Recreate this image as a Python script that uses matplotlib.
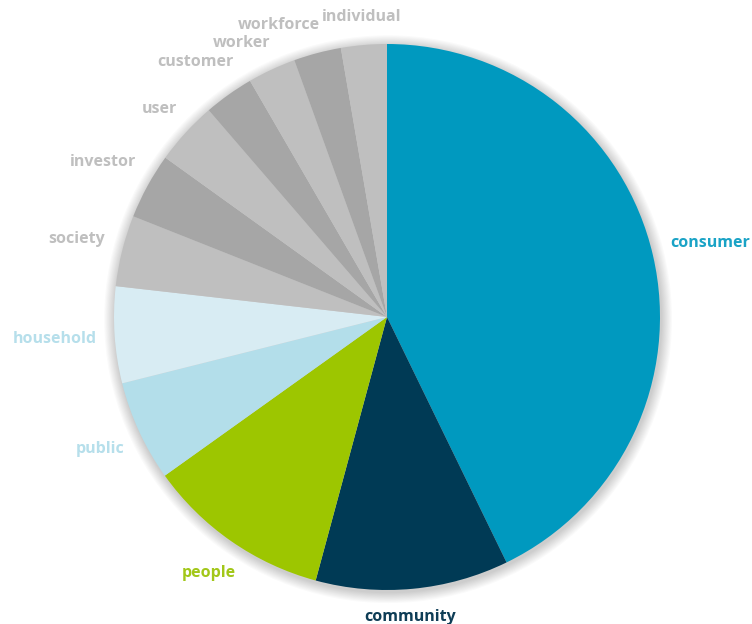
import numpy as np
import matplotlib.pyplot as plt
from matplotlib.patches import Circle

# share of mentions (clockwise from 12 o'clock)
labels = ['consumer', 'community', 'people', 'public', 'household', 'society',
          'investor', 'user', 'customer', 'worker', 'workforce', 'individual']
values = [42.7, 11.4, 10.9, 5.95, 5.7, 4.2, 3.9, 3.75, 2.95, 2.85, 2.8, 2.7]

light_gray = '#BFBFBF'
dark_gray = '#A6A6A6'
colors = ['#0099BF', '#003A55', '#9DC600', '#B3DEEA', '#D8ECF3', light_gray,
          dark_gray, light_gray, dark_gray, light_gray, dark_gray, light_gray]
text_colors = ['#1AA3C6', '#0E3D56', '#A2C719', '#B6DFEB', '#B6DFEB', '#BFBFBF',
               '#BFBFBF', '#BFBFBF', '#BFBFBF', '#BFBFBF', '#BFBFBF', '#BFBFBF']

W, H, DPI = 752, 624, 100
R_PX = 273.0
CX, CY = 387.0, 317.0

plt.rcParams['font.family'] = ['Open Sans', 'DejaVu Sans']

fig = plt.figure(figsize=(W / DPI, H / DPI), dpi=DPI)
ax = fig.add_axes([0, 0, 1, 1])

# soft shadow round the pie
for k in range(10, 0, -1):
    ax.add_patch(Circle((0.004, -0.008), 1 + k * 0.004, color='#000000',
                        alpha=0.018, lw=0, zorder=0))

wedges, _ = ax.pie(values, colors=colors, startangle=90, counterclock=False,
                   radius=1, wedgeprops=dict(linewidth=0))
for w in wedges:
    w.set_zorder(2)

xmin, xmax = -CX / R_PX, (W - CX) / R_PX
ymin, ymax = -(H - CY) / R_PX, CY / R_PX
ax.set_xlim(xmin, xmax)
ax.set_ylim(ymin, ymax)
ax.set_aspect('auto')
ax.axis('off')

# labels: put the box just outside the rim along the slice's middle angle
texts = []
for w, lab, tc in zip(wedges, labels, text_colors):
    t = ax.text(0, 0, lab, ha='center', va='center', fontsize=11.5,
                fontweight='bold', color=tc, zorder=3)
    texts.append(t)
fig.canvas.draw()
renderer = fig.canvas.get_renderer()

gap = 1.065
vmargin = 4 / R_PX
placed = []


def label_box(ang, hw, hh):
    c, s = np.cos(ang), np.sin(ang)
    r = gap + hw * abs(c) + hh * abs(s)
    x, y = r * c, r * s
    return x, y, (x - hw, x + hw, y - hh, y + hh)


def fits(box):
    if box[0] < xmin or box[1] > xmax:
        return False
    if box[2] < ymin or box[3] > ymax:
        return False
    for p in placed:
        if (box[0] < p[1] and box[1] > p[0] and
                box[2] < p[3] + vmargin and box[3] > p[2] - vmargin):
            return False
    return True


# walk from the top slice anticlockwise so crowded labels get pushed aside
for i in list(range(len(labels)))[::-1]:
    w = wedges[i]
    t = texts[i]
    bb = t.get_window_extent(renderer)
    hw = bb.width / 2 / R_PX
    hh = bb.height / 2 / R_PX * 0.85
    mid = np.deg2rad((w.theta1 + w.theta2) / 2)
    best = label_box(mid, hw, hh)
    for step in range(0, 80):
        done = False
        for sign in (1, -1):
            cand = label_box(mid + sign * np.deg2rad(0.5 * step), hw, hh)
            if fits(cand[2]):
                best = cand
                done = True
                break
        if done:
            break
    x, y, box = best
    placed.append(box)
    t.set_position((x, y))

fig.savefig('out.png', dpi=DPI)
